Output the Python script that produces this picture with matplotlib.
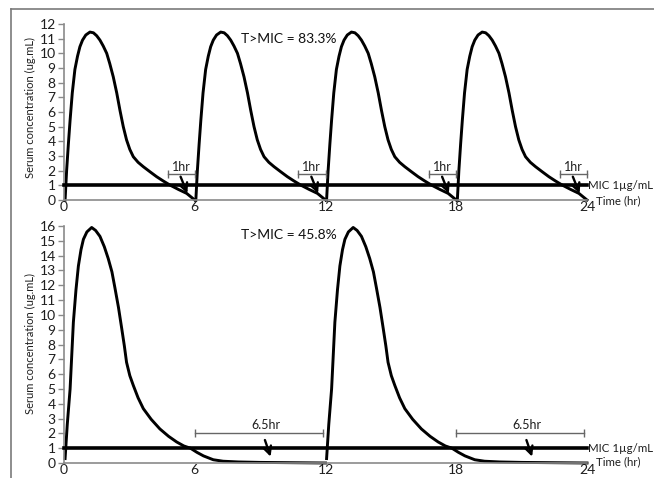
import matplotlib
matplotlib.use("Agg")
import matplotlib.pyplot as plt
from matplotlib.lines import Line2D

plt.rcParams['font.family'] = ['Lato', 'DejaVu Sans']

# ---- data ----
hour_ticks = [0, 6, 12, 18, 24]
top_doses = [0, 6, 12, 18]
bottom_doses = [0, 12]
mic = 1.0

top_cycle_t = [0.05, 0.12, 0.2, 0.28, 0.38, 0.5, 0.62, 0.73, 0.85, 1.0, 1.19, 1.35, 1.5,
               1.65, 1.8, 1.96, 2.1, 2.26, 2.42, 2.57, 2.72, 2.87, 3.02, 3.18, 3.4, 3.64,
               3.95, 4.25, 4.55, 4.86, 5.25, 5.63, 6.0]
top_cycle_c = [0.0, 2.0, 3.8, 5.45, 7.3, 8.9, 9.8, 10.45, 10.9, 11.25, 11.45, 11.4, 11.2,
               10.9, 10.5, 10.0, 9.3, 8.4, 7.3, 6.1, 5.0, 4.1, 3.45, 2.95, 2.57, 2.27,
               1.92, 1.59, 1.3, 1.02, 0.72, 0.45, 0.0]

bottom_cycle_t = [0.05, 0.15, 0.28, 0.43, 0.55, 0.66, 0.78, 0.89, 1.05, 1.27, 1.45, 1.65,
                  1.85, 2.03, 2.2, 2.34, 2.5, 2.65, 2.77, 2.87, 3.02, 3.18, 3.4, 3.64, 4.0,
                  4.4, 4.8, 5.17, 5.5, 5.8, 6.1, 6.4, 6.85, 7.3, 8.0, 9.0, 10.5, 12.0]
bottom_cycle_c = [0.3, 2.6, 5.0, 9.5, 11.7, 13.3, 14.4, 15.1, 15.6, 15.9, 15.7, 15.3,
                  14.6, 13.8, 12.9, 11.8, 10.5, 9.07, 7.9, 6.8, 5.9, 5.24, 4.4, 3.67, 2.95,
                  2.3, 1.8, 1.42, 1.15, 1.0, 0.72, 0.48, 0.22, 0.12, 0.07, 0.04, 0.02, 0.0]

top_title = "T>MIC = 83.3%"
bottom_title = "T>MIC = 45.8%"
top_gap_label = "1hr"
bottom_gap_label = "6.5hr"
ylabel = "Serum concentration (ug.mL)"

W, H = 654, 478
fig = plt.figure(figsize=(W / 100, H / 100), dpi=100)

ax1 = fig.add_axes([64 / W, 1 - 200 / H, 523 / W, 176 / H])
ax2 = fig.add_axes([64 / W, 1 - 463 / H, 523 / W, 237 / H])

GRAY = '#8a8a8a'
FS = 10
TXT = '#1e1e1e'

def style(ax, ymax):
    ax.set_xlim(0, 24)
    ax.set_ylim(0, ymax)
    for s in ('top', 'right'):
        ax.spines[s].set_visible(False)
    for s in ('left', 'bottom'):
        ax.spines[s].set_color(GRAY)
        ax.spines[s].set_linewidth(1.2)
    ax.set_yticks(range(0, ymax + 1))
    ax.set_xticks(hour_ticks)
    ax.tick_params(axis='y', direction='out', length=4, width=1, color=GRAY,
                   labelsize=FS, pad=2, labelcolor=TXT)
    ax.tick_params(axis='x', length=0, labelsize=FS, pad=1, labelcolor=TXT)
    ax.patch.set_visible(False)

style(ax1, 12)
style(ax2, 16)

# curves
for d in top_doses:
    ax1.plot([d + t for t in top_cycle_t], top_cycle_c, color='black', lw=2.1,
             solid_joinstyle='round', clip_on=False)
for d in bottom_doses:
    ax2.plot([d + t for t in bottom_cycle_t], bottom_cycle_c, color='black', lw=2.1,
             solid_joinstyle='round', clip_on=False)

# MIC lines
for ax, ty in ((ax1, -0.07), (ax2, 0.09)):
    ax.plot([0, 24], [mic, mic], color='black', lw=2.6, clip_on=False, zorder=3)
    ax.text(24.05, mic, "MIC 1µg/mL", fontsize=8.3, va='center', ha='left',
            color=TXT, clip_on=False)
    ax.text(24.4, ty, "Time (hr)", fontsize=8.3, va='center', ha='left',
            color=TXT, clip_on=False)

# T>MIC text
ax1.text(8.1, 11.0, top_title, fontsize=10, va='center', ha='left', color='#111111')
ax2.text(8.1, 15.4, bottom_title, fontsize=10, va='center', ha='left', color='#111111')

# brackets + arrows (top)
for d in top_doses:
    e = d + 6
    ax1.plot([e - 1.25, e], [1.75, 1.75], color='#666666', lw=1.0, marker='|',
             markersize=6, markeredgewidth=1.0, clip_on=False)
    ax1.text(e - 0.63, 1.85, top_gap_label, fontsize=9, ha='center', va='bottom',
             color=TXT)
    ax1.annotate('', xy=(e - 0.34, 0.45), xytext=(e - 0.65, 1.59),
                 arrowprops=dict(arrowstyle='->', lw=1.7, color='black',
                                 shrinkA=0, shrinkB=0, mutation_scale=14))

# brackets + arrows (bottom)
for d in bottom_doses:
    s = d + 6
    ax2.plot([s, s + 5.87], [2.05, 2.05], color='#666666', lw=1.0, marker='|',
             markersize=6, markeredgewidth=1.0, clip_on=False)
    ax2.text(s + 3.25, 2.15, bottom_gap_label, fontsize=9, ha='center', va='bottom',
             color=TXT)
    ax2.annotate('', xy=(s + 3.48, 0.43), xytext=(s + 3.22, 1.55),
                 arrowprops=dict(arrowstyle='->', lw=1.7, color='black',
                                 shrinkA=0, shrinkB=0, mutation_scale=14))

# y labels
fig.text(30 / W, 1 - 107 / H, ylabel, rotation=90, ha='center', va='center',
         fontsize=8, color=TXT)
fig.text(30 / W, 1 - 343 / H, ylabel, rotation=90, ha='center', va='center',
         fontsize=8, color=TXT)

# outer frame (top and left edges)
fig.add_artist(Line2D([11 / W, 1], [1 - 9 / H, 1 - 9 / H], transform=fig.transFigure,
                      color='#7a7a7a', lw=1.2))
fig.add_artist(Line2D([11 / W, 11 / W], [0, 1 - 9 / H], transform=fig.transFigure,
                      color='#7a7a7a', lw=1.2))

fig.savefig("out.png", dpi=100)
